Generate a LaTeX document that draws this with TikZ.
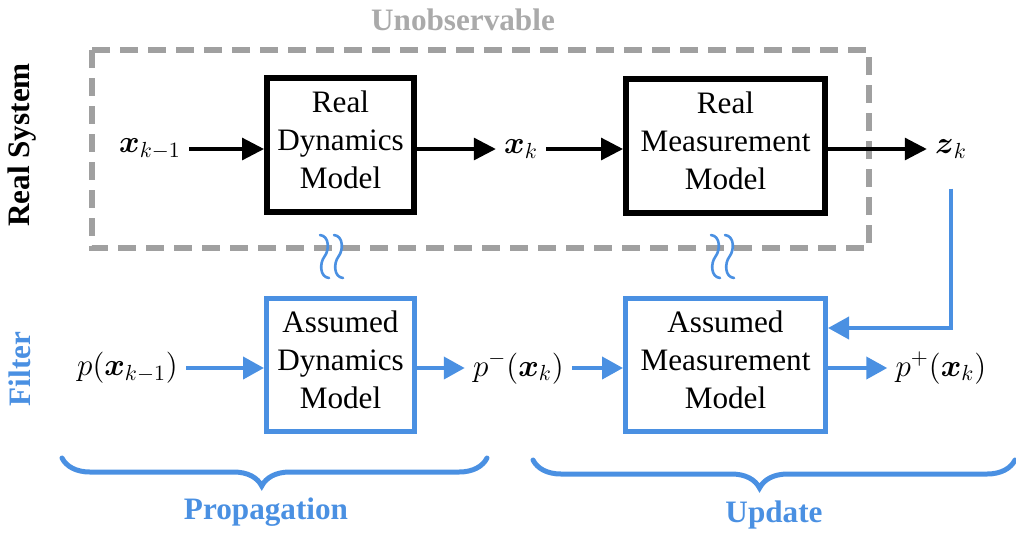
\RequirePackage{fix-cm}
\documentclass[tikz,border=0pt]{standalone}
\usepackage{amsmath,amssymb}
\usepackage{fontspec}
\setmainfont{Liberation Serif}
\usepackage{tikz}
\usetikzlibrary{positioning,arrows.meta,decorations.pathreplacing}
\definecolor{filter-blue}{RGB}{74,144,226}
\definecolor{hidden-gray}{RGB}{160,160,160}
\definecolor{label-gray}{RGB}{170,170,170}

\begin{document}
\begin{tikzpicture}
[
  x=0.5pt, y=-0.5pt,
  every node/.style={font=\fontsize{15.6}{19}\selectfont},
  heading/.style={font=\fontsize{15.6}{19}\selectfont\bfseries},
  realbox/.style={rectangle,draw=black,line width=3pt,align=center,inner sep=0pt,text depth=5pt,minimum height=67pt},
  filterbox/.style={rectangle,draw=filter-blue,line width=2.5pt,align=center,inner sep=0pt,text depth=5pt,minimum height=66.5pt},
  signal/.style={inner sep=4pt},
  realarrow/.style={-{Triangle[length=11pt,width=11pt]},line width=1.6pt},
  filterarrow/.style={filter-blue,-{Triangle[length=10.5pt,width=11pt]},line width=2pt},
  wave/.style={filter-blue,line width=1.3pt,line cap=round},
  stage/.style={draw=filter-blue,line width=2.5pt,line cap=round,decorate,decoration={brace,mirror,amplitude=14pt,aspect=0.47}},
]
\useasboundingbox (0,0) rectangle (1016,532);

\draw[hidden-gray,line width=3pt,dash pattern=on 9pt off 5pt] (92,50) rectangle (869,248);
\node[heading,text=label-gray] (unobs) at (463,20) {Unobservable};
\node[heading,rotate=90] (realsys) at (22,145) {Real System};
\node[heading,rotate=90,text=filter-blue] (filt) at (20,369) {Filter};

\node[realbox,minimum width=73.5pt] (dyn) at (340.5,145) {Real\\Dynamics\\Model};
\node[realbox,minimum width=99.5pt] (meas) at (725.5,145.5) {Real\\Measurement\\Model};
\node[filterbox,minimum width=74pt] (adyn) at (340.5,365) {Assumed\\Dynamics\\Model};
\node[filterbox,minimum width=100pt] (ameas) at (725.5,365) {Assumed\\Measurement\\Model};

\node[signal] (xprev) at (150,149) {$\boldsymbol{x}_{k-1}$};
\node[signal] (xk) at (521,149) {$\boldsymbol{x}_k$};
\node[signal] (zk) at (951,149) {$\boldsymbol{z}_k$};
\node[signal] (pprev) at (127.5,368) {$p(\boldsymbol{x}_{k-1})$};
\node[signal] (pminus) at (518.5,368) {$p^-(\boldsymbol{x}_k)$};
\node[signal] (pplus) at (941,368) {$p^+(\boldsymbol{x}_k)$};

\draw[realarrow] (xprev) -- (xprev -| dyn.west);
\draw[realarrow] (xk -| dyn.east) -- (xk);
\draw[realarrow] (xk) -- (xk -| meas.west);
\draw[realarrow] (zk -| meas.east) -- (zk);

\draw[filterarrow] (pprev) -- (pprev -| adyn.west);
\draw[filterarrow] (pminus -| adyn.east) -- (pminus);
\draw[filterarrow] (pminus) -- (pminus -| ameas.west);
\draw[filterarrow] (pplus -| ameas.east) -- (pplus);
\draw[filterarrow,shorten <=11pt] (zk.south) |- ([yshift=18.5pt]ameas.east);

\foreach \cx in {324.5,338.5,715.5,729.5}
  \draw[wave] (\cx-4.5,235) .. controls (\cx+5,236) and (\cx+5,250) .. (\cx,256.5)
    .. controls (\cx-5,263) and (\cx-5,277) .. (\cx+4.5,278);

\draw[stage] (62,458) -- (487,458);
\draw[stage] (533,460) -- (1015,460);
\node[heading,text=filter-blue] (prop) at (266,512) {Propagation};
\node[heading,text=filter-blue] (upd) at (774,515) {Update};
\end{tikzpicture}
\end{document}
